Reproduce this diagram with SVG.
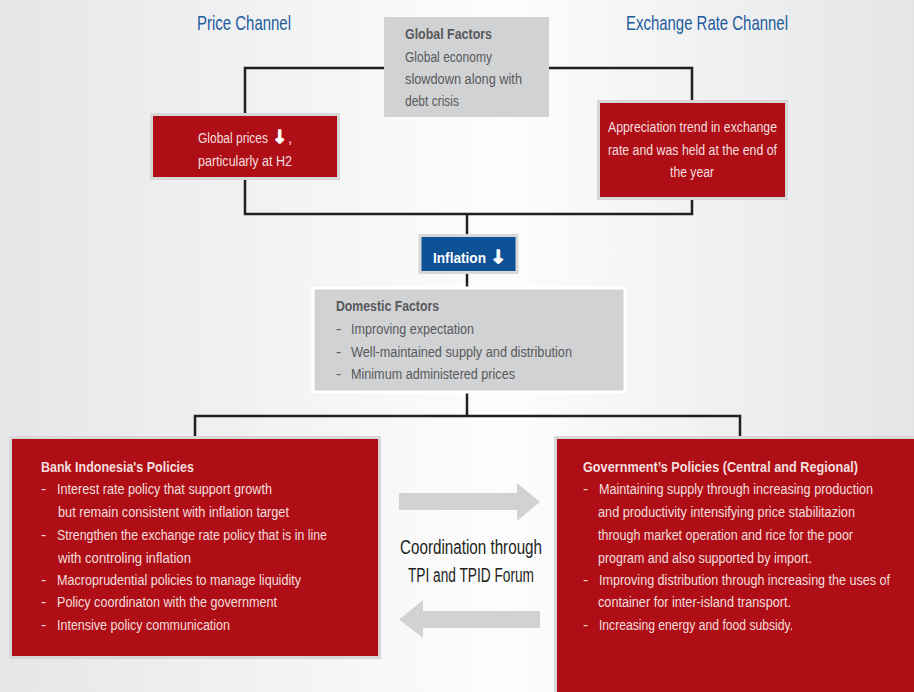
<svg xmlns="http://www.w3.org/2000/svg" width="914" height="692" viewBox="0 0 914 692">
<defs>
<linearGradient id="bg" x1="0" y1="0" x2="1" y2="0">
<stop offset="0" stop-color="#e5e6e8"/>
<stop offset="0.55" stop-color="#fdfdfd"/>
<stop offset="1" stop-color="#e4e5e7"/>
</linearGradient>
</defs>
<style>
.t{font-family:"Liberation Sans",Arial,sans-serif}
.head{font-size:21px;fill:#1d5b9e}
.g{font-size:15.5px;fill:#58595b}
.gb{font-size:15.5px;fill:#58595b;font-weight:bold}
.w{font-size:15.5px;fill:#f3dede}
.wb{font-size:15.5px;fill:#f3dede;font-weight:bold}
.arr{font-family:"DejaVu Sans",sans-serif;font-weight:bold;fill:#ffffff;stroke:#ffffff;stroke-width:1.2;stroke-linejoin:round;font-size:18px}
.red{fill:#b00e17;stroke:#d7d7d8;stroke-width:3}
.gray{fill:#d1d2d4}
.line{fill:none;stroke:#231f20;stroke-width:2.5}
.garr{fill:#d1d2d4}
.coord{font-size:20px;fill:#231f20}
</style>
<rect width="914" height="692" fill="url(#bg)"/>

<g id="connectors">
<path class="line" d="M384 68 H245 V113"/>
<path class="line" d="M549 68 H692 V100"/>
<path class="line" d="M245 180 V214 H692 V200"/>
<path class="line" d="M467 214 V234"/>
<path class="line" d="M467 274 V287"/>
<path class="line" d="M467 393 V416"/>
<path class="line" d="M195 436 V416 H740 V436"/>
<polygon class="garr" points="399,493 517,493 517,483 540,502 517,521 517,510 399,510"/>
<polygon class="garr" points="540,611 423,611 423,600 399,619.5 423,638 423,628 540,628"/>
</g>

<g id="price-channel-title">
<text class="t head" x="197" y="30" textLength="94" lengthAdjust="spacingAndGlyphs">Price Channel</text>
</g>
<g id="exchange-channel-title">
<text class="t head" x="626" y="30" textLength="162" lengthAdjust="spacingAndGlyphs">Exchange Rate Channel</text>
</g>

<g id="global-factors">
<rect class="gray" x="384" y="17" width="165" height="100"/>
<text class="t gb" x="405" y="39" textLength="87" lengthAdjust="spacingAndGlyphs">Global Factors</text>
<text class="t g" x="405" y="62" textLength="87" lengthAdjust="spacingAndGlyphs">Global economy</text>
<text class="t g" x="405" y="84" textLength="117" lengthAdjust="spacingAndGlyphs">slowdown along with</text>
<text class="t g" x="405" y="106" textLength="54" lengthAdjust="spacingAndGlyphs">debt crisis</text>
</g>

<g id="global-prices">
<rect class="red" x="151.5" y="114.5" width="187" height="64"/>
<text class="t w" x="198" y="143" textLength="70" lengthAdjust="spacingAndGlyphs">Global prices</text>
<text class="arr" x="272" y="143" textLength="15" lengthAdjust="spacingAndGlyphs">↓</text>
<text class="t w" x="288" y="143">,</text>
<text class="t w" x="198" y="166" textLength="94" lengthAdjust="spacingAndGlyphs">particularly at H2</text>
</g>

<g id="appreciation">
<rect class="red" x="598.5" y="101.5" width="188" height="97"/>
<text class="t w" x="608" y="132" textLength="169" lengthAdjust="spacingAndGlyphs">Appreciation trend in exchange</text>
<text class="t w" x="608" y="155" textLength="169" lengthAdjust="spacingAndGlyphs">rate and was held at the end of</text>
<text class="t w" x="670" y="177" textLength="44" lengthAdjust="spacingAndGlyphs">the year</text>
</g>

<g id="inflation">
<rect x="420" y="235.5" width="97" height="37" fill="#0d5297" stroke="#d7d7d8" stroke-width="3"/>
<text class="t wb" x="433" y="263" textLength="53" lengthAdjust="spacingAndGlyphs" style="fill:#ffffff">Inflation</text>
<text class="arr" x="490" y="263" textLength="16" lengthAdjust="spacingAndGlyphs">↓</text>
</g>

<g id="domestic-factors">
<rect class="gray" x="313" y="288" width="312" height="104" stroke="#ffffff" stroke-width="3"/>
<text class="t gb" x="336" y="311" textLength="103" lengthAdjust="spacingAndGlyphs">Domestic Factors</text>
<text class="t g" x="336" y="334">-</text>
<text class="t g" x="351" y="334" textLength="123" lengthAdjust="spacingAndGlyphs">Improving expectation</text>
<text class="t g" x="336" y="357">-</text>
<text class="t g" x="351" y="357" textLength="221" lengthAdjust="spacingAndGlyphs">Well-maintained supply and distribution</text>
<text class="t g" x="336" y="379">-</text>
<text class="t g" x="351" y="379" textLength="164" lengthAdjust="spacingAndGlyphs">Minimum administered prices</text>
</g>

<g id="bank-indonesia-policies">
<rect class="red" x="10.5" y="437.5" width="369" height="220"/>
<text class="t wb" x="41" y="472" textLength="153" lengthAdjust="spacingAndGlyphs">Bank Indonesia's Policies</text>
<text class="t w" x="41" y="494">-</text>
<text class="t w" x="57" y="494" textLength="215" lengthAdjust="spacingAndGlyphs">Interest rate policy that support growth</text>
<text class="t w" x="58" y="517" textLength="231" lengthAdjust="spacingAndGlyphs">but remain consistent with inflation target</text>
<text class="t w" x="41" y="540">-</text>
<text class="t w" x="57" y="540" textLength="270" lengthAdjust="spacingAndGlyphs">Strengthen the exchange rate policy that is in line</text>
<text class="t w" x="58" y="563" textLength="133" lengthAdjust="spacingAndGlyphs">with controling inflation</text>
<text class="t w" x="41" y="585">-</text>
<text class="t w" x="57" y="585" textLength="244" lengthAdjust="spacingAndGlyphs">Macroprudential policies to manage liquidity</text>
<text class="t w" x="41" y="607">-</text>
<text class="t w" x="57" y="607" textLength="220" lengthAdjust="spacingAndGlyphs">Policy coordinaton with the government</text>
<text class="t w" x="41" y="630">-</text>
<text class="t w" x="57" y="630" textLength="173" lengthAdjust="spacingAndGlyphs">Intensive policy communication</text>
</g>

<g id="coordination">
<text class="t coord" x="400" y="554" textLength="142" lengthAdjust="spacingAndGlyphs">Coordination through</text>
<text class="t coord" x="408" y="582" textLength="126" lengthAdjust="spacingAndGlyphs">TPI and TPID Forum</text>
</g>

<g id="government-policies">
<rect class="red" x="555.5" y="437.5" width="370" height="270"/>
<text class="t wb" x="583" y="472" textLength="275" lengthAdjust="spacingAndGlyphs">Government’s Policies (Central and Regional)</text>
<text class="t w" x="583" y="494">-</text>
<text class="t w" x="599" y="494" textLength="274" lengthAdjust="spacingAndGlyphs">Maintaining supply through increasing production</text>
<text class="t w" x="598" y="517" textLength="257" lengthAdjust="spacingAndGlyphs">and productivity intensifying price stabilitazion</text>
<text class="t w" x="598" y="540" textLength="255" lengthAdjust="spacingAndGlyphs">through market operation and rice for the poor</text>
<text class="t w" x="598" y="563" textLength="214" lengthAdjust="spacingAndGlyphs">program and also supported by import.</text>
<text class="t w" x="583" y="585">-</text>
<text class="t w" x="599" y="585" textLength="291" lengthAdjust="spacingAndGlyphs">Improving distribution through increasing the uses of</text>
<text class="t w" x="598" y="607" textLength="193" lengthAdjust="spacingAndGlyphs">container for inter-island transport.</text>
<text class="t w" x="583" y="630">-</text>
<text class="t w" x="599" y="630" textLength="194" lengthAdjust="spacingAndGlyphs">Increasing energy and food subsidy.</text>
</g>
</svg>
